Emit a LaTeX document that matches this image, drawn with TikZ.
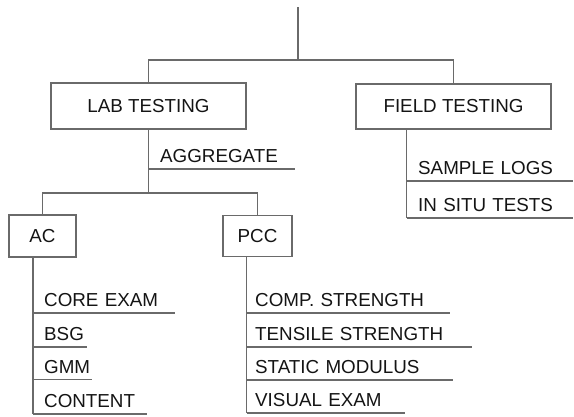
\documentclass[tikz,border=0pt]{standalone}
\usepackage{fontspec}
\setmainfont{Liberation Sans}
\definecolor{rule}{HTML}{6A6A6A}
\definecolor{ink}{HTML}{141414}
\tikzset{
  conn/.style={draw=rule, line width=1.2pt},
  box/.style={draw=rule, line width=1.2pt, inner sep=0pt, text=ink,
    font=\fontsize{18.8}{20}\selectfont},
  item/.style={anchor=south west, inner xsep=0pt, inner ysep=6pt,
    text height=13.6pt, text depth=0pt, align=left, text=ink,
    font=\fontsize{18.8}{20}\selectfont},
}
\begin{document}
\begin{tikzpicture}[x=1pt,y=-1pt]
\useasboundingbox (0,0) rectangle (574,416);

% main boxes
\node[box, minimum width=195pt, minimum height=46pt] (lab)   at (148.5,106)   {LAB TESTING};
\node[box, minimum width=195pt, minimum height=45pt] (field) at (453.5,106.5) {FIELD TESTING};
\node[box, minimum width=67pt,  minimum height=42pt] (ac)    at (42.5,236)    {AC};
\node[box, minimum width=69pt,  minimum height=41pt] (pcc)   at (257.5,236)   {PCC};

% underlined entries
\node[item, text width=135pt] (agg)     at (160,169)   {AGGREGATE};
\node[item, text width=155pt] (sample)  at (418,181)   {SAMPLE LOGS};
\node[item, text width=155pt] (insitu)  at (418,218)   {IN SITU TESTS};
\node[item, text width=131pt] (core)    at (44,313)    {CORE EXAM};
\node[item, text width=43pt]  (bsg)     at (44,347)    {BSG};
\node[item, text width=48pt]  (gmm)     at (44,379.5)  {GMM};
\node[item, text width=103pt] (content) at (44,414)    {CONTENT};
\node[item, text width=195pt] (comp)    at (255,313)   {COMP. STRENGTH};
\node[item, text width=217pt] (tensile) at (255,347)   {TENSILE STRENGTH};
\node[item, text width=198pt] (static)  at (255,380)   {STATIC MODULUS};
\node[item, text width=150pt] (visual)  at (255,413)   {VISUAL EXAM};

% junction points and stems
\coordinate (root)  at (298,7);
\coordinate (split) at (298,60);
\coordinate (mid)   at (148.5,193);
\coordinate (fx)    at (406.5,0);
\coordinate (acx)   at (33,0);
\coordinate (pccx)  at (246.5,0);

% top level
\draw[conn] (root) -- (split);
\draw[conn] (lab.north) -- (lab.north |- split) -- (field.north |- split) -- (field.north);

% lab testing branch
\draw[conn] (lab.south) -- (mid);
\draw[conn] (lab.south |- agg.south) -- (agg.south east);
\draw[conn] (ac.north) -- (ac.north |- mid) -- (pcc.north |- mid) -- (pcc.north);

% field testing list
\draw[conn] (field.south -| fx) -- (fx |- insitu.south);
\draw[conn] (fx |- sample.south) -- (sample.south east);
\draw[conn] (fx |- insitu.south) -- (insitu.south east);

% AC list
\draw[conn] (ac.south -| acx) -- (acx |- content.south);
\foreach \n in {core,bsg,gmm,content}
  \draw[conn] (acx |- \n.south) -- (\n.south east);

% PCC list
\draw[conn] (pcc.south -| pccx) -- (pccx |- visual.south);
\foreach \n in {comp,tensile,static,visual}
  \draw[conn] (pccx |- \n.south) -- (\n.south east);
\end{tikzpicture}
\end{document}
